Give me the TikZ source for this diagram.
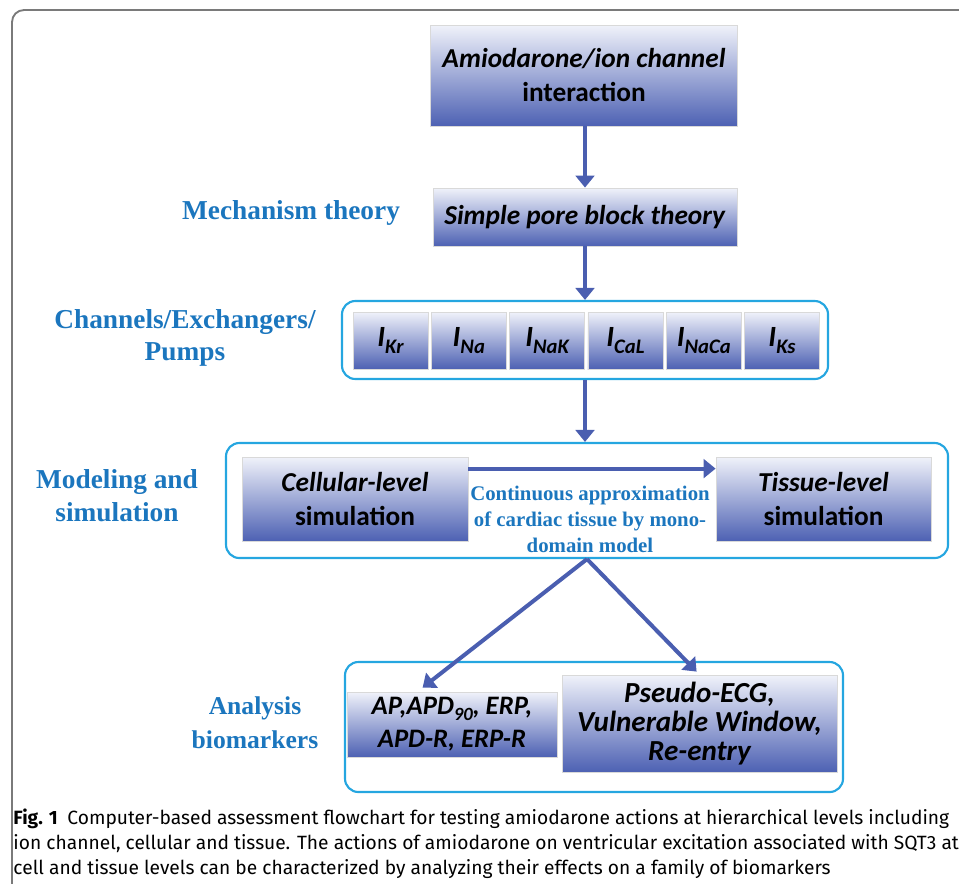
\documentclass[tikz,border=0pt]{standalone}
\usepackage{fontspec}
\setmainfont{Carlito}
\newfontfamily\levelfont{Liberation Serif}
\newfontfamily\capfont{Fira Sans}
\usetikzlibrary{arrows.meta,calc}

\definecolor{boxtop}{HTML}{F0F2FA}
\definecolor{boxbot}{HTML}{4D61B3}
\definecolor{arrowblue}{HTML}{4A5EB0}
\definecolor{frameblue}{HTML}{25A6E0}
\definecolor{levelblue}{HTML}{1B76BE}
\definecolor{pagegray}{HTML}{7A7A7A}

\newcommand{\chancur}[1]{\textit{I\raisebox{-0.45ex}{\fontsize{15.5}{15.5}\selectfont #1}}}

\tikzset{
    every picture/.style={line width=0.75pt},
    gradbox/.style={draw=gray!30, line width=0.6pt, top color=boxtop, bottom color=boxbot,
        inner sep=0pt, align=center, font=\bfseries\fontsize{20.5}{25.5}\selectfont},
    chanbox/.style={gradbox, minimum width=56.25pt, minimum height=42.75pt, font=\bfseries\fontsize{22}{22}\selectfont},
    group/.style={draw=frameblue, line width=1.6pt, rounded corners=10pt, inner sep=0pt},
    level/.style={text=levelblue, align=center, inner sep=0pt,
        font=\levelfont\bfseries\fontsize{20.5}{24.5}\selectfont},
    flow/.style={draw=arrowblue, line width=3pt, -{Triangle[width=14pt,length=9pt]}},
}

\begin{document}
\begin{tikzpicture}[x=0.75pt, y=-0.75pt]
    \useasboundingbox (0,0) rectangle (959,883);
    % page frame
    \draw[pagegray, line width=1.4pt, rounded corners=9pt] (12,900) -- (12,10) -- (975,10);

    % top of the chain
    \node[gradbox, minimum width=230.25pt, minimum height=75.75pt] (amio) at (584,75.5)
        {\textit{Amiodarone/ion channel}\\interaction};
    \node[gradbox, minimum width=228pt, minimum height=43.5pt] (pore) at (585,217)
        {\textit{Simple pore block theory}};
    \node[level] (mech) at (291,213) {Mechanism theory};

    % ion currents
    \node[group, minimum width=364.5pt, minimum height=58.5pt] (chan) at (585,340) {};
    \foreach \cur [count=\i from 0] in {Kr,Na,NaK,CaL,NaCa,Ks}
        \node[chanbox] (cur\i) at (390.5+78.3*\i,340.5) {\chancur{\cur}};
    \node[level] (chanlab) at (185,338) {Channels/Exchangers/\\Pumps};

    % modeling
    \node[group, minimum width=541.5pt, minimum height=86.25pt] (model) at (587,500.5) {};
    \node[gradbox, minimum width=169.5pt, minimum height=63pt] (cell) at (355,499)
        {\textit{Cellular-level}\\simulation};
    \node[gradbox, minimum width=161.25pt, minimum height=63pt] (tissue) at (823.5,499)
        {\textit{Tissue-level}\\simulation};
    \node[level, font=\levelfont\bfseries\fontsize{15.6}{19.5}\selectfont] (approx) at (590,519)
        {Continuous approximation\\of cardiac tissue by mono-\\domain model};
    \node[level] (modlab) at (117,496) {Modeling and\\simulation};

    % biomarkers
    \node[group, minimum width=373.5pt, minimum height=97.5pt] (bio) at (594,727) {};
    \node[gradbox, minimum width=157.5pt, minimum height=48.75pt,
        font=\bfseries\itshape\fontsize{20}{24.75}\selectfont] (apbox) at (452,724.5)
        {AP,APD\raisebox{-0.4ex}{\fontsize{14}{14}\selectfont 90}, ERP,\\APD-R, ERP-R};
    \node[gradbox, minimum width=206.25pt, minimum height=72.75pt,
        font=\bfseries\itshape\fontsize{21.8}{21.75}\selectfont] (ecgbox) at (699.5,723.5)
        {Pseudo-ECG,\\Vulnerable Window,\\Re-entry};
    \node[level, font=\levelfont\bfseries\fontsize{19.2}{25.5}\selectfont] (biolab) at (255,723)
        {Analysis\\biomarkers};

    % connectors
    \draw[flow] (amio.south -| chan.north) -- (pore.north -| chan.north);
    \draw[flow] (pore.south -| chan.north) -- (chan.north);
    \draw[flow] (chan.south) -- (chan.south |- model.north);
    \draw[flow] ($(cell.north east)+(0,12)$) -- ($(tissue.north west)+(0,12)$);
    \coordinate (split) at (model.south);
    \draw[flow] (split) -- ($(apbox.north west)+(76,-4)$);
    \draw[flow] (split) -- ($(ecgbox.north west)+(135,-3)$);

    % caption
    \begin{scope}[every node/.style={anchor=base west, inner sep=0pt,
            font=\capfont\fontsize{14.4}{18}\selectfont}]
        \node (cap1) at (13,824) {\textbf{Fig. 1}\enspace Computer-based assessment flowchart for testing amiodarone actions at hierarchical levels including};
        \node (cap2) at (13,849) {ion channel, cellular and tissue. The actions of amiodarone on ventricular excitation associated with SQT3 at};
        \node (cap3) at (13,874) {cell and tissue levels can be characterized by analyzing their effects on a family of biomarkers};
    \end{scope}
\end{tikzpicture}
\end{document}
